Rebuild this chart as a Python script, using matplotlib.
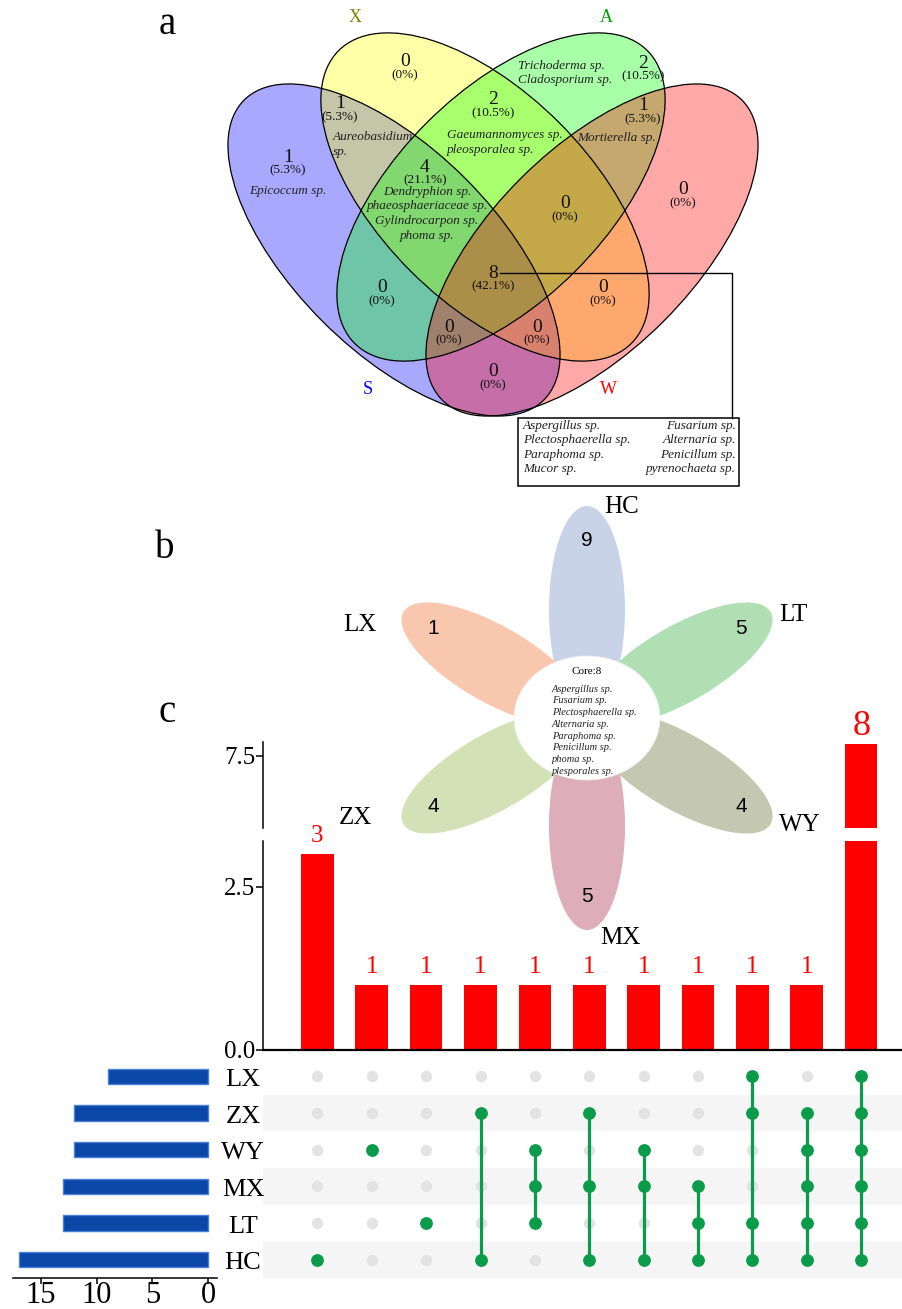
import numpy as np
import matplotlib
matplotlib.use("Agg")
import matplotlib.pyplot as plt
from matplotlib.patches import Ellipse, Rectangle
from matplotlib.transforms import blended_transform_factory

plt.rcParams['font.family'] = ['Liberation Serif', 'DejaVu Serif']

# ---- a: four-set Venn (S, X, A, W) ----
venn_names = ['S', 'X', 'A', 'W']
venn_fill = ['#0000ff', '#ffff00', '#00ff00', '#ff0000']
venn_name_colors = ['#0000ff', '#808000', '#009a00', '#ff0000']
venn_regions = ['S', 'X', 'A', 'W', 'SX', 'XA', 'AW', 'SXA', 'XAW',
                'SA', 'SXAW', 'XW', 'SAW', 'SXW', 'SW']
venn_counts = [1, 0, 2, 0, 1, 2, 1, 4, 0, 0, 8, 0, 0, 0, 0]
venn_species = {
    'S': ['Epicoccum sp.'],
    'SX': ['Aureobasidium', 'sp.'],
    'XA': ['Gaeumannomyces sp.', 'pleosporalea sp.'],
    'A': ['Trichoderma sp.', 'Cladosporium sp.'],
    'AW': ['Mortierella sp.'],
    'SXA': ['Dendryphion sp.', 'phaeosphaeriaceae sp.',
            'Gylindrocarpon sp.', 'phoma sp.'],
}
venn_core = ['Aspergillus sp.', 'Fusarium sp.', 'Plectosphaerella sp.',
             'Alternaria sp.', 'Paraphoma sp.', 'Penicillum sp.',
             'Mucor sp.', 'pyrenochaeta sp.']

# ---- b: flower ----
flower_names = ['HC', 'LT', 'WY', 'MX', 'ZX', 'LX']
flower_counts = [9, 5, 4, 5, 4, 1]
flower_colors = ['#c8d3e8', '#b0dfb4', '#c5c8b0', '#ddaeb9', '#d2e2b6', '#f9c6ae']
flower_core = ['Aspergillus sp.', 'Fusarium sp.', 'Plectosphaerella sp.',
               'Alternaria sp.', 'Paraphoma sp.', 'Penicillum sp.',
               'phoma sp.', 'plesporales sp.']
core_count = 8

# ---- c: upset ----
upset_sets = ['LX', 'ZX', 'WY', 'MX', 'LT', 'HC']
set_sizes = [9, 12, 12, 13, 13, 17]
inter_members = [['HC'], ['WY'], ['LT'], ['ZX', 'HC'], ['WY', 'MX', 'LT'],
                 ['ZX', 'MX', 'HC'], ['WY', 'MX', 'HC'], ['MX', 'LT', 'HC'],
                 ['LX', 'ZX', 'LT', 'HC'], ['ZX', 'WY', 'MX', 'LT', 'HC'],
                 ['LX', 'ZX', 'WY', 'MX', 'LT', 'HC']]
inter_counts = [3, 1, 1, 1, 1, 1, 1, 1, 1, 1, 8]

W, H = 903, 1309
fig = plt.figure(figsize=(W / 100, H / 100), dpi=100)


def rect(x0, y0, x1, y1):
    # pixel box (top-left origin) -> figure fraction
    return [x0 / W, 1 - y1 / H, (x1 - x0) / W, (y1 - y0) / H]


# ================= c: upset plot =================
ax_lo = fig.add_axes(rect(263, 841, 903, 1050))
ax_hi = fig.add_axes(rect(263, 742, 903, 828))
ax_mat = fig.add_axes(rect(263, 1058, 903, 1278))
ax_size = fig.add_axes(rect(13, 1058, 217, 1278))

xpos = np.arange(1, len(inter_counts) + 1)
xmax = 11.77
for ax in (ax_lo, ax_hi):
    ax.bar(xpos, inter_counts, width=0.6, color='#ff0000')
    ax.set_xlim(0, xmax)
    ax.set_facecolor('none')
    for s in ('top', 'right'):
        ax.spines[s].set_visible(False)
    ax.spines['left'].set_linewidth(1.1)
    ax.set_xticks([])
    ax.tick_params(axis='y', length=5, width=1.1, labelsize=18, pad=0.5)

ax_lo.set_ylim(0, 3.2)
ax_lo.set_yticks([0, 2.5])
ax_lo.set_yticklabels(['0.0', '2.5'])
ax_lo.spines['bottom'].set_linewidth(1.6)
ax_hi.set_ylim(4.5, 8.08)
ax_hi.set_yticks([7.5])
ax_hi.set_yticklabels(['7.5'])
ax_hi.spines['bottom'].set_visible(False)

for x, c in zip(xpos, inter_counts):
    big = c > 3.2
    ax = ax_hi if big else ax_lo
    ax.annotate(str(c), (x, c), xytext=(0, 1 if big else 5),
                textcoords='offset points', ha='center', va='bottom',
                color='#ff0000', fontsize=26 if big else 18,
                annotation_clip=False)

# membership matrix
nrow = len(upset_sets)
row_y = {s: nrow - 1 - i for i, s in enumerate(upset_sets)}
ax_mat.set_xlim(0, xmax)
ax_mat.set_ylim(-0.5, nrow - 0.5)
ax_mat.axis('off')
for i, s in enumerate(upset_sets):
    if i % 2 == 1:
        ax_mat.axhspan(row_y[s] - 0.5, row_y[s] + 0.5, color='#f5f5f5', lw=0, zorder=0)
for x, members in zip(xpos, inter_members):
    ax_mat.scatter([x] * nrow, list(row_y.values()), s=68, color='#e3e3e3',
                   lw=0, zorder=2)
    ys = [row_y[m] for m in members]
    if len(ys) > 1:
        ax_mat.plot([x, x], [min(ys), max(ys)], color='#0a9b4b', lw=2.3, zorder=3)
    ax_mat.scatter([x] * len(ys), ys, s=85, color='#0a9b4b', lw=0, zorder=4)

tr = blended_transform_factory(ax_mat.transAxes, ax_mat.transData)
for s in upset_sets:
    ax_mat.text(-20 / 640, row_y[s] - 0.1, s, transform=tr, ha='center',
                va='center', fontsize=19)

# set sizes
ax_size.barh([row_y[s] for s in upset_sets], set_sizes, height=0.42,
             color='#0a47a6', edgecolor='#4a7fd8', linewidth=1)
ax_size.set_xlim(17.5, -0.8)
ax_size.set_ylim(-0.5, nrow - 0.5)
for s in ('top', 'right', 'left'):
    ax_size.spines[s].set_visible(False)
ax_size.spines['bottom'].set_linewidth(1.1)
ax_size.set_yticks([])
ax_size.set_xticks([15, 10, 5, 0])
ax_size.tick_params(axis='x', length=4, width=1.1, labelsize=22, pad=-1.5)

# ================= canvas for a and b =================
cv = fig.add_axes([0, 0, 1, 1])
cv.set_xlim(0, W)
cv.set_ylim(H, 0)
cv.axis('off')

# panel letters
for letter, (lx, ly) in zip('abc', [(167, 25), (165, 549), (167, 712)]):
    cv.text(lx, ly, letter, fontsize=28, ha='center', va='center')

# ---- Venn ellipses ----
venn_shapes = {'S': (394, 250, 212, 101, 45), 'X': (485, 197, 207, 105, 45),
               'A': (501, 197, 207, 105, -45), 'W': (592, 250, 212, 101, -45)}
for name, col in zip(venn_names, venn_fill):
    cx, cy, a, b, ang = venn_shapes[name]
    cv.add_patch(Ellipse((cx, cy), 2 * a, 2 * b, angle=ang, facecolor=col,
                         alpha=0.34, lw=0))
for name in venn_names:
    cx, cy, a, b, ang = venn_shapes[name]
    cv.add_patch(Ellipse((cx, cy), 2 * a, 2 * b, angle=ang, facecolor='none',
                         edgecolor='black', lw=0.9))

venn_name_pos = {'S': (368, 390), 'X': (355, 18), 'A': (606, 18), 'W': (608, 390)}
for name, col in zip(venn_names, venn_name_colors):
    cv.text(*venn_name_pos[name], name, color=col, fontsize=13,
            ha='center', va='center')

venn_num_pos = {'S': (288, 157), 'X': (405, 62), 'A': (643, 63), 'W': (683, 190),
                'SX': (340, 104), 'XA': (493, 100), 'AW': (643, 106),
                'SXA': (425, 167), 'XAW': (565, 204), 'SA': (382, 288),
                'SXAW': (493, 273), 'XW': (603, 288), 'SAW': (449, 327),
                'SXW': (537, 327), 'SW': (493, 372)}
total = sum(venn_counts)
for reg, cnt in zip(venn_regions, venn_counts):
    x, y = venn_num_pos[reg]
    pct = '0%' if cnt == 0 else f'{cnt / total * 100:.1f}%'
    cv.text(x, y, str(cnt), fontsize=14, ha='center', va='center', color='#111111')
    cv.text(x, y + 13, f'({pct})', fontsize=9.5, ha='center', va='center', color='#111111')

venn_species_pos = {'S': (288, 191, 'center'), 'SX': (333, 137, 'left'),
                    'XA': (447, 135, 'left'), 'A': (518, 66, 'left'),
                    'AW': (617, 138, 'center'), 'SXA': (427, 192, 'center')}
for reg, names in venn_species.items():
    x, y, ha = venn_species_pos[reg]
    for k, sp in enumerate(names):
        cv.text(x, y + 14.5 * k, sp, style='italic', fontsize=9.5, ha=ha,
                va='center', color='#222222')

# leader to the core box
cv.plot([500, 732, 732], [273, 273, 418], color='black', lw=1.0)
cv.add_patch(Rectangle((518, 418), 221, 68, facecolor='white',
                       edgecolor='black', lw=1.1))
for k, sp in enumerate(venn_core[0::2]):
    cv.text(523, 426 + 14.3 * k, sp, style='italic', fontsize=9.5,
            ha='left', va='center', color='#222222')
for k, sp in enumerate(venn_core[1::2]):
    cv.text(736, 426 + 14.3 * k, sp, style='italic', fontsize=9.5,
            ha='right', va='center', color='#222222')

# ---- flower ----
fc = (587, 718)
flower_angles = [90, 30, -30, -90, -150, 150]
name_offsets = [(35, -211), (206, -103), (213, 107), (33, 220), (-232, 100), (-227, -93)]
for name, cnt, col, ang, off in zip(flower_names, flower_counts, flower_colors,
                                    flower_angles, name_offsets):
    rad = np.deg2rad(ang)
    ux, uy = np.cos(rad), -np.sin(rad)
    cv.add_patch(Ellipse((fc[0] + 108 * ux, fc[1] + 108 * uy), 208, 76,
                         angle=-ang, facecolor=col, lw=0))
    cv.text(fc[0] + 178 * ux, fc[1] + 178 * uy, str(cnt), family='Liberation Sans',
            fontsize=15, ha='center', va='center')
    cv.text(fc[0] + off[0], fc[1] + off[1], name, fontsize=18,
            ha='center', va='center')

cv.add_patch(Ellipse(fc, 146, 124, facecolor='white', edgecolor='#eeeeee', lw=0.5))
cv.text(fc[0], 671, f'Core:{core_count}', fontsize=8, ha='center', va='center')
for k, sp in enumerate(flower_core):
    cv.text(552, 689 + 11.8 * k, sp, style='italic', fontsize=7.5,
            ha='left', va='center', color='#222222')

fig.savefig('out.png', dpi=100)
